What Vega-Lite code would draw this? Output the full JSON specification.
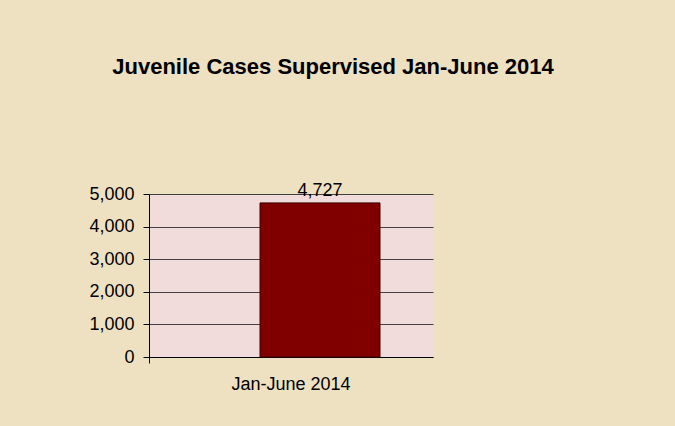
{
  "$schema": "https://vega.github.io/schema/vega-lite/v6.json",
  "width": 284,
  "height": 163,
  "autosize": {"type": "none"},
  "padding": {"left": 149, "top": 194, "right": 242, "bottom": 69},
  "background": "#eee1c2",
  "title": {
    "text": "Juvenile  Cases Supervised Jan-June 2014",
    "font": "Liberation Sans",
    "fontSize": 22,
    "fontWeight": "bold",
    "color": "#000000",
    "offset": 103,
    "dx": 42
  },
  "data": {"values": [{"period": "Jan-June 2014", "cases": 4727}]},
  "encoding": {
    "x": {
      "field": "period",
      "type": "nominal",
      "title": null,
      "scale": {"paddingInner": 0, "paddingOuter": 0},
      "axis": {
        "labelAngle": 0,
        "labelFont": "Liberation Sans",
        "labelFontSize": 18,
        "labelColor": "#000000",
        "labelPadding": 12,
        "domainColor": "#000000",
        "tickColor": "#000000",
        "tickSize": 6,
        "bandPosition": 0
      }
    },
    "y": {
      "field": "cases",
      "type": "quantitative",
      "title": null,
      "scale": {"domain": [0, 5000], "nice": false},
      "axis": {
        "values": [0, 1000, 2000, 3000, 4000, 5000],
        "format": ",.0f",
        "labelFont": "Liberation Sans",
        "labelFontSize": 18,
        "labelColor": "#000000",
        "labelPadding": 9,
        "domainColor": "#000000",
        "tickColor": "#000000",
        "tickSize": 6,
        "gridColor": "#404040",
        "gridOpacity": 1,
        "gridWidth": 1
      }
    }
  },
  "layer": [
    {
      "mark": {"type": "bar", "color": "#800000", "stroke": "#3a0000", "strokeWidth": 1, "width": 120, "xOffset": 29}
    },
    {
      "mark": {"type": "text", "dy": -12, "xOffset": 29, "font": "Liberation Sans", "fontSize": 18, "color": "#000000"},
      "encoding": {"text": {"field": "cases", "type": "quantitative", "format": ",.0f"}}
    }
  ],
  "config": {"view": {"fill": "#f2dcdb", "stroke": null}}
}
